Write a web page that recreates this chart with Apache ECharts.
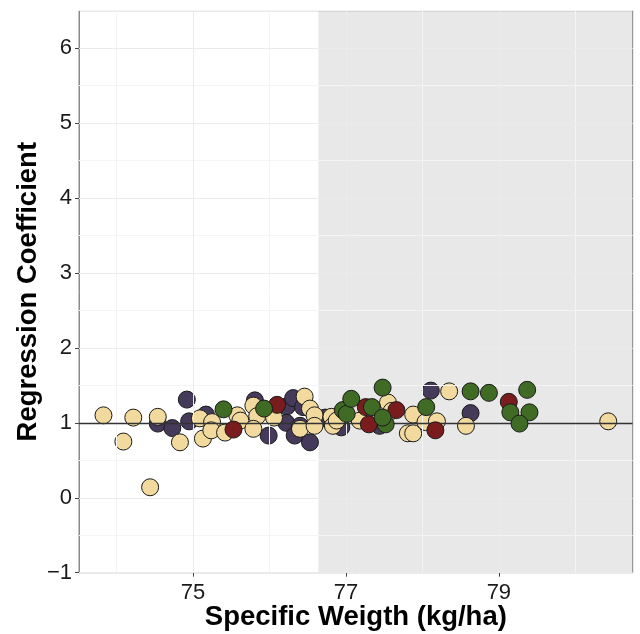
<!DOCTYPE html>
<html><head><meta charset="utf-8">
<script src="https://cdn.jsdelivr.net/npm/echarts@6/dist/echarts.min.js"></script>
<style>html,body{margin:0;padding:0;background:#fff}#c{width:640px;height:634px}</style>
</head><body><div id="c"></div>
<script>
// ---- data ----
const xMajorTicks = [75, 77, 79];
const xMinorTicks = [74, 76, 78, 80];
const yMajorTicks = [-1, 0, 1, 2, 3, 4, 5, 6];
const yMinorTicks = [-0.5, 0.5, 1.5, 2.5, 3.5, 4.5, 5.5, 6.5];
const xRange = [73.51, 80.75];
const yRange = [-1, 6.5];
const shadeFrom = 76.64;
const refLine = 1;

const purplePts = [
  [74.54,0.99],[74.73,0.93],[74.92,1.31],[74.95,1.02],[75.17,1.11],[75.81,1.30],
  [75.99,0.83],[76.23,1.22],[76.31,1.33],[76.44,1.21],[76.22,1.00],[76.33,0.83],
  [76.40,0.96],[76.53,0.74],[76.63,1.03],[76.73,1.07],[76.94,0.94],[77.44,0.96],
  [78.11,1.43],[78.63,1.13]
];
const beigePts = [
  [73.83,1.10],[74.09,0.75],[74.22,1.07],[74.44,0.14],[74.54,1.08],[74.83,0.74],
  [75.09,1.06],[75.13,0.79],[75.25,1.01],[75.24,0.90],[75.42,0.87],[75.58,1.10],
  [75.62,1.03],[75.79,1.23],[75.84,1.09],[75.79,0.92],[76.06,1.07],[76.46,1.35],
  [76.53,1.19],[76.40,0.92],[76.59,1.10],[76.59,0.96],[76.81,1.08],[76.83,0.96],
  [76.88,1.03],[77.18,1.03],[77.55,1.27],[77.60,1.16],[77.88,1.11],[77.81,0.86],
  [77.88,0.86],[78.04,1.01],[78.35,1.42],[78.19,1.02],[78.57,0.96],[80.43,1.02]
];
const redPts = [
  [75.53,0.91],[76.10,1.24],[77.26,1.21],[77.30,0.98],[77.66,1.17],[78.17,0.90],[79.13,1.28]
];
const greenPts = [
  [75.40,1.18],[75.93,1.19],[76.96,1.17],[77.01,1.12],[77.07,1.32],[77.34,1.21],
  [77.52,0.98],[77.48,1.07],[77.48,1.47],[78.05,1.21],[78.63,1.42],[78.87,1.40],
  [79.37,1.44],[79.15,1.14],[79.40,1.14],[79.27,0.99]
];

// ---- chart ----
const chart = echarts.init(document.getElementById('c'), null, {renderer:'canvas'});
const font = 'Liberation Sans, Arial, Helvetica, sans-serif';
function gl(axis, vals, color) {
  return vals.map(v => ({[axis]: v, lineStyle:{color:color, width:1, type:'solid'}}));
}
function pts(name, data, color, z) {
  return {
    name, type:'scatter', data, symbol:'circle', symbolSize:17, z,
    itemStyle:{color, borderColor:'#1a1a1a', borderWidth:1, opacity:1},
    emphasis:{disabled:true}
  };
}
const fmt = v => String(v).replace('-', '\u2212');
chart.setOption({
  animation:false,
  backgroundColor:'#fff',
  grid:{left:79, right:7.3, top:10.7, bottom:61.3, show:true, borderColor:'#8a8a8a', borderWidth:1,
        backgroundColor:'transparent', containLabel:false, outerBoundsMode:'none'},
  xAxis:{
    type:'value', min:xRange[0], max:xRange[1],
    name:'Specific Weigth (kg/ha)', nameLocation:'middle', nameGap:31, nameMoveOverlap:false,
    nameTextStyle:{fontFamily:font, fontSize:27.5, fontWeight:'bold', color:'#000'},
    axisLine:{show:true, onZero:false, lineStyle:{color:'#8a8a8a'}},
    axisTick:{show:true, length:4, customValues:xMajorTicks, lineStyle:{color:'#444'}},
    axisLabel:{customValues:xMajorTicks, formatter:fmt, fontFamily:font, fontSize:22, color:'#1a1a1a', margin:9},
    splitLine:{show:false}
  },
  yAxis:{
    type:'value', min:yRange[0], max:yRange[1],
    name:'Regression Coefficient', nameLocation:'middle', nameGap:37, nameMoveOverlap:false,
    nameTextStyle:{fontFamily:font, fontSize:27.5, fontWeight:'bold', color:'#000'},
    axisLine:{show:true, onZero:false, lineStyle:{color:'#8a8a8a'}},
    axisTick:{show:true, length:4, customValues:yMajorTicks, lineStyle:{color:'#444'}},
    axisLabel:{customValues:yMajorTicks, formatter:fmt, fontFamily:font, fontSize:22, color:'#1a1a1a', margin:7},
    splitLine:{show:false}
  },
  series:[
    {type:'line', data:[], z:1, silent:true,
     markLine:{silent:true, symbol:'none', label:{show:false}, animation:false,
       data: gl('xAxis', xMinorTicks, '#f4f4f4').concat(gl('yAxis', yMinorTicks, '#f4f4f4'))
             .concat(gl('xAxis', xMajorTicks, '#ebebeb')).concat(gl('yAxis', yMajorTicks, '#ebebeb'))}
    },
    {type:'line', data:[], z:1.5, silent:true,
     markArea:{silent:true, itemStyle:{color:'rgba(0,0,0,0.09)'},
       data:[[{xAxis:shadeFrom, yAxis:yRange[0]},{xAxis:xRange[1], yAxis:yRange[1]}]]}
    },
    {type:'line', data:[], z:1.8, silent:true,
     markLine:{silent:true, symbol:'none', label:{show:false}, animation:false,
       data:[{yAxis:refLine, lineStyle:{color:'#333', width:1.3, type:'solid'}}]}
    },
    pts('Group 1', purplePts, '#453a59', 3),
    pts('Group 2', beigePts, '#f2da9e', 4),
    pts('Group 3', redPts, '#7a1b1e', 5),
    pts('Group 4', greenPts, '#3f6b25', 6)
  ]
});
</script></body></html>
